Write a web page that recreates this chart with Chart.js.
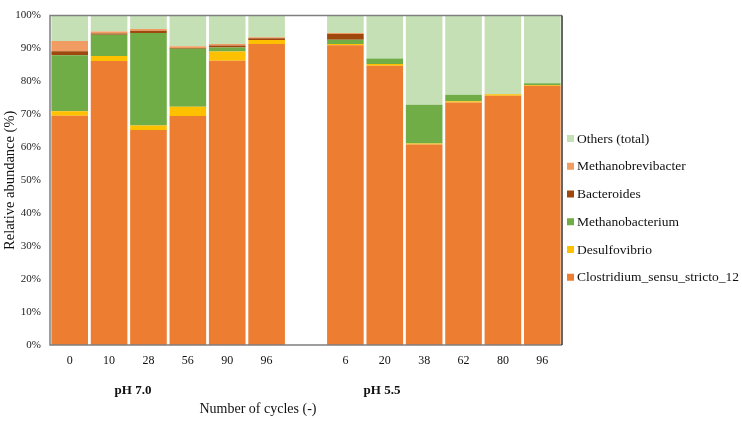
<!DOCTYPE html>
<html><head><meta charset="utf-8">
<script src="https://cdn.jsdelivr.net/npm/chart.js@4.4.0/dist/chart.umd.min.js"></script>
<style>html,body{margin:0;padding:0;background:#fff}#wrap{width:742px;height:421px;position:relative}</style>
</head><body><div id="wrap"><canvas id="c" width="742" height="421"></canvas></div>
<script>
const categories = ['0','10','28','56','90','96','','6','20','38','62','80','96'];
const groupLabels = ['pH 7.0','pH 5.5'];
const xTitle = 'Number of cycles (-)';
const yTitle = 'Relative abundance (%)';
const yTickValues = [0,10,20,30,40,50,60,70,80,90,100];

const clostridium        = [69.6, 86.2, 65.3, 69.5, 86.3, 91.4, null, 91.0, 84.8, 60.9, 73.6, 75.7, 78.7];
const desulfovibrio      = [1.4,  1.5,  1.3,  2.8,  2.8,  1.2,  null, 0.4,  0.5,  0.3,  0.4,  0.4,  0.2];
const methanobacterium   = [17.0, 6.5,  28.1, 17.6, 1.2,  0.0,  null, 1.3,  1.7,  11.7, 2.0,  0.1,  0.6];
const bacteroides        = [1.2,  0.4,  0.7,  0.3,  0.6,  0.5,  null, 1.7,  0.0,  0.0,  0.0,  0.0,  0.0];
const methanobrevibacter = [3.1,  0.6,  0.5,  0.5,  0.5,  0.3,  null, 0.3,  0.0,  0.0,  0.0,  0.0,  0.0];
const others             = [7.7,  4.8,  4.1,  9.3,  8.6,  6.6,  null, 5.3,  13.0, 27.1, 24.0, 23.8, 20.5];

const seriesNames = ['Clostridium_sensu_stricto_12','Desulfovibrio','Methanobacterium','Bacteroides','Methanobrevibacter','Others (total)'];
const seriesData = [clostridium, desulfovibrio, methanobacterium, bacteroides, methanobrevibacter, others];
const seriesColors = ['#ED7D31','#FFC000','#70AD47','#9E480E','#F19C62','#C5E0B4'];

const SERIF = '"Liberation Serif", "Times New Roman", serif';

const extras = {
  id: 'extras',
  afterDatasetsDraw(chart) {
    const {ctx, chartArea: a} = chart;
    ctx.save();
    ctx.lineWidth = 1.5;
    ctx.strokeStyle = '#7f7f7f';
    ctx.beginPath();
    ctx.moveTo(a.right, a.top); ctx.lineTo(a.left, a.top);
    ctx.lineTo(a.left, a.bottom); ctx.lineTo(a.right, a.bottom);
    ctx.stroke();
    ctx.strokeStyle = '#333';
    ctx.beginPath(); ctx.moveTo(a.right, a.top); ctx.lineTo(a.right, a.bottom); ctx.stroke();
    ctx.restore();
  },
  afterDraw(chart) {
    const {ctx} = chart;
    ctx.save();
    ctx.fillStyle = '#111';
    ctx.textAlign = 'center';
    ctx.textBaseline = 'middle';
    ctx.font = 'bold 13px ' + SERIF;
    ctx.fillText(groupLabels[0], 133, 391);
    ctx.fillText(groupLabels[1], 382, 391);
    ctx.font = '14px ' + SERIF;
    ctx.fillText(xTitle, 258, 409);
    // legend (reverse order)
    ctx.textAlign = 'left';
    ctx.font = '13.5px ' + SERIF;
    for (let k = 0; k < seriesNames.length; k++) {
      const i = seriesNames.length - 1 - k;
      const y = 138.5 + k * 27.75;
      ctx.fillStyle = seriesColors[i];
      ctx.fillRect(567, y - 3.5, 7, 7);
      ctx.fillStyle = '#111';
      ctx.fillText(seriesNames[i], 577, y + 0.5);
    }
    ctx.restore();
  }
};

new Chart(document.getElementById('c'), {
  type: 'bar',
  data: {
    labels: categories,
    datasets: seriesNames.map((n, i) => ({
      label: n, data: seriesData[i], backgroundColor: seriesColors[i],
      borderWidth: 0, barPercentage: 0.93, categoryPercentage: 1.0
    }))
  },
  options: {
    responsive: false, animation: false, devicePixelRatio: 1,
    layout: {padding: {top: 7, right: 180, bottom: 0, left: 0}},
    plugins: {legend: {display: false}, tooltip: {enabled: false}},
    scales: {
      x: {
        stacked: true,
        grid: {display: false, drawTicks: false}, border: {display: false},
        ticks: {font: {family: SERIF, size: 12}, color: '#111', padding: 9, maxRotation: 0, autoSkip: false},
        afterFit(s) { s.height = 76; }
      },
      y: {
        stacked: true, min: 0, max: 100,
        grid: {display: false, drawTicks: false}, border: {display: false},
        afterBuildTicks(s) { s.ticks = yTickValues.map(v => ({value: v})); },
        ticks: {font: {family: SERIF, size: 11}, color: '#222', padding: 9, callback: v => v + '%'},
        title: {display: true, text: yTitle, font: {family: SERIF, size: 14.5}, color: '#111', padding: {top: 1, bottom: 0}},
        afterFit(s) { s.width = 50; }
      }
    }
  },
  plugins: [extras]
});
</script></body></html>
